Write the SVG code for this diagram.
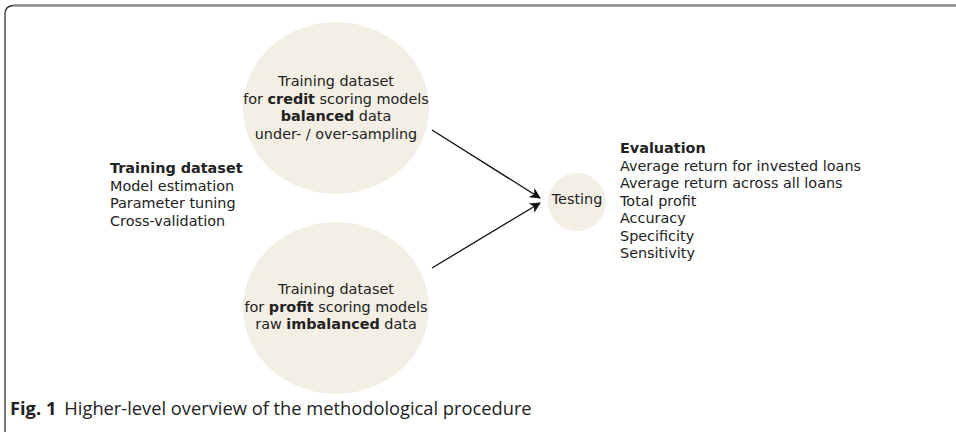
<svg xmlns="http://www.w3.org/2000/svg" width="956" height="435" viewBox="0 0 956 435">
<style>
.t{font-family:"DejaVu Sans",Verdana,sans-serif;font-size:14.4px;fill:#222}
.b{font-weight:bold}
.node{fill:#f4efe5}
.cap{font-family:"Open Sans","Noto Sans",sans-serif;font-size:18.3px;fill:#222}
</style>
<defs>
<marker id="ah" markerWidth="11" markerHeight="11" refX="10" refY="5.5" orient="auto" markerUnits="userSpaceOnUse">
<path d="M0,0 L11,5.5 L0,11 L3,5.5 Z" fill="#111"/>
</marker>
</defs>
<rect width="956" height="435" fill="#fff"/>
<g id="frame" fill="none">
<path d="M5,432 L5,14 Q5,6 13,5.5 L956,5.5" stroke="#333" stroke-width="1.3"/>
<path d="M13,5.5 L956,5.5" stroke="#888" stroke-width="2"/>
</g>
<g id="connectors" stroke="#111" stroke-width="1.3" fill="none">
<line x1="432" y1="130" x2="540" y2="198" marker-end="url(#ah)"/>
<line x1="432" y1="268" x2="540" y2="203" marker-end="url(#ah)"/>
</g>
<g id="label-training">
<text class="t" x="110" y="173"><tspan class="b">Training dataset</tspan><tspan x="110" dy="17.5">Model estimation</tspan><tspan x="110" dy="17.5">Parameter tuning</tspan><tspan x="110" dy="17.5">Cross-validation</tspan></text>
</g>
<g id="node-credit">
<ellipse class="node" cx="336" cy="108" rx="93" ry="86"/>
<text class="t" text-anchor="middle" x="336" y="86">Training dataset<tspan x="336" dy="17.7">for <tspan class="b">credit</tspan> scoring models</tspan><tspan x="336" dy="17.7"><tspan class="b">balanced</tspan> data</tspan><tspan x="336" dy="17.7">under- / over-sampling</tspan></text>
</g>
<g id="node-profit">
<ellipse class="node" cx="336" cy="308" rx="93" ry="86"/>
<text class="t" text-anchor="middle" x="336" y="294">Training dataset<tspan x="336" dy="17.7">for <tspan class="b">profit</tspan> scoring models</tspan><tspan x="336" dy="17.7">raw <tspan class="b">imbalanced</tspan> data</tspan></text>
</g>
<g id="node-testing">
<circle class="node" cx="577" cy="202" r="29"/>
<text class="t" text-anchor="middle" x="577" y="204">Testing</text>
</g>
<g id="label-evaluation">
<text class="t" x="620" y="153"><tspan class="b">Evaluation</tspan><tspan x="620" dy="17.5">Average return for invested loans</tspan><tspan x="620" dy="17.5">Average return across all loans</tspan><tspan x="620" dy="17.5">Total profit</tspan><tspan x="620" dy="17.5">Accuracy</tspan><tspan x="620" dy="17.5">Specificity</tspan><tspan x="620" dy="17.5">Sensitivity</tspan></text>
</g>
<g id="caption">
<text class="cap" x="10" y="415"><tspan font-weight="bold">Fig. 1</tspan><tspan dx="8">Higher-level overview of the methodological procedure</tspan></text>
</g>
</svg>
